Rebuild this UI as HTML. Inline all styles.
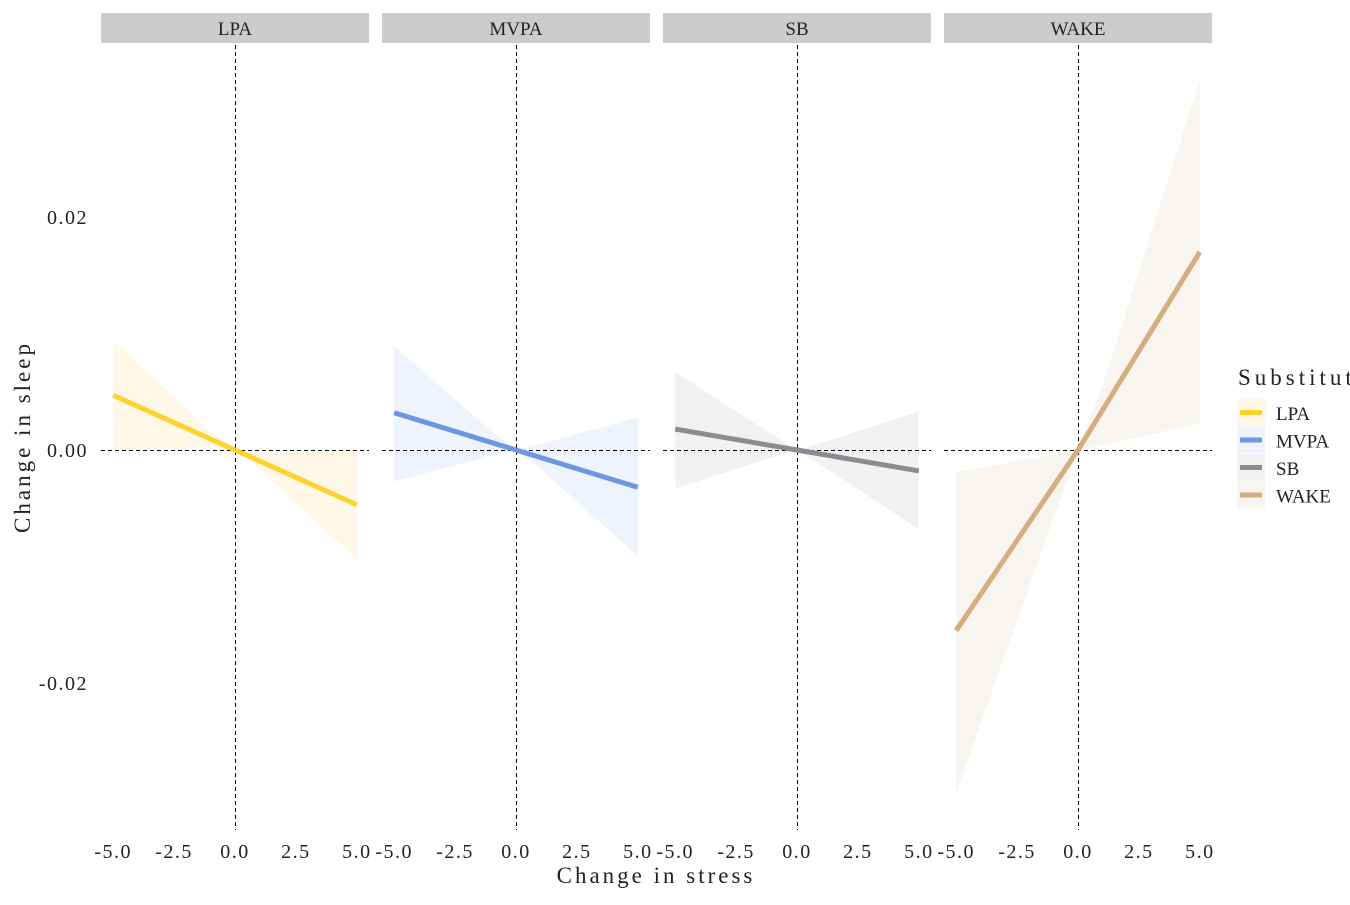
<!DOCTYPE html>
<html><head><meta charset="utf-8"><style>
body{margin:0;background:#fff;}
svg text{font-family:"Liberation Serif",serif;fill:#222;}
</style></head><body>
<svg id="chart" width="1350" height="900" xmlns="http://www.w3.org/2000/svg"></svg>
<script>
const panels=["LPA","MVPA","SB","WAKE"];
const colors=["#fdd22e","#6f97e1","#898c93","#d4ae7d"];
const fills=["#fff8e6","#eef3fc","#f1f1f1","#f8f5f1"];
const lineX=[-5,0,5];
const lineLPA=[0.0047,0,-0.0047];
const lineMVPA=[0.0032,0,-0.0032];
const lineSB=[0.0018,0,-0.0018];
const lineWAKE=[-0.0155,0,0.017];
const ribX=[-5,-1,0,1,5];
const upLPA=[0.0094,0.0016,0,-0.0003,0];
const loLPA=[0,0.0003,0,-0.0016,-0.0094];
const upMVPA=[0.0089,0.0016,0,0.0005,0.0028];
const loMVPA=[-0.0027,-0.0005,0,-0.0016,-0.0091];
const upSB=[0.0067,0.0013,0,0.0006,0.0033];
const loSB=[-0.0033,-0.0006,0,-0.0013,-0.0068];
const upWAKE=[-0.0019,-0.0004,0,0.0055,0.0318];
const loWAKE=[-0.0294,-0.0058,0,0.0004,0.0023];
const xTicks=[-5,-2.5,0,2.5,5];
const xTickLabels=["-5.0","-2.5","0.0","2.5","5.0"];
const yTicks=[0.02,0,-0.02];
const yTickLabels=["0.02","0.00","-0.02"];
const lines=[lineLPA,lineMVPA,lineSB,lineWAKE];
const ups=[upLPA,upMVPA,upSB,upWAKE], los=[loLPA,loMVPA,loSB,loWAKE];
const panelLeft=[101,382,663,944], panelW=268, plotTop=45, plotBottom=830;
const NS="http://www.w3.org/2000/svg", svg=document.getElementById('chart');
function mk(t,a,p){const e=document.createElementNS(NS,t);for(const k in a)e.setAttribute(k,a[k]);(p||svg).appendChild(e);return e;}
function xs(i,v){return panelLeft[i]+(v+5.5)/11*panelW;}
function ys(v){return 450-v*11650;}
yTicks.forEach((t,j)=>{const e=mk('text',{x:88,y:ys(t)+7,'text-anchor':'end','font-size':20,'letter-spacing':'1.5'});


e.textContent=yTickLabels[j];});
const yt=mk('text',{x:0,y:0,transform:'translate(30,437) rotate(-90)','text-anchor':'middle','font-size':23,'letter-spacing':'3'});
yt.textContent='Change in sleep';
panels.forEach((p,i)=>{
  const g=mk('g',{});
  
  
  const s=mk('rect',{x:panelLeft[i],y:13,width:panelW,height:30,fill:'#cccccc'},g);
  
  
  const st=mk('text',{x:panelLeft[i]+panelW/2,y:35,'text-anchor':'middle','font-size':19},g);
  
  
  st.textContent=p;
  let pts=ribX.map((x,k)=>xs(i,x)+','+ys(ups[i][k]));
  pts=pts.concat(ribX.map((x,k)=>xs(i,x)+','+ys(los[i][k])).reverse());
  const r=mk('polygon',{points:pts.join(' '),fill:fills[i]},g);
  
  
  const hy=Math.round(ys(0))+0.5, vx=Math.round(xs(i,0))+0.5;
  const h=mk('line',{x1:panelLeft[i],x2:panelLeft[i]+panelW,y1:hy,y2:hy,stroke:'#000','stroke-width':1,'stroke-dasharray':'4,3'},g);
  
  
  const v=mk('line',{x1:vx,x2:vx,y1:plotTop,y2:plotBottom,stroke:'#000','stroke-width':1,'stroke-dasharray':'4,3'},g);
  
  
  const l=mk('polyline',{points:lineX.map((x,k)=>xs(i,x)+','+ys(lines[i][k])).join(' '),fill:'none',stroke:colors[i],'stroke-width':5},g);
  
  
  xTicks.forEach((t,k)=>{const e=mk('text',{x:xs(i,t),y:858,'text-anchor':'middle','font-size':20,'letter-spacing':'1.5'},g);
  
  
  e.textContent=xTickLabels[k];});
});
const xt=mk('text',{x:656,y:883,'text-anchor':'middle','font-size':23,'letter-spacing':'3'});
xt.textContent='Change in stress';
const lg=mk('g',{});

const ltt=mk('text',{x:1238,y:385,'font-size':23,'letter-spacing':'4'},lg);
ltt.textContent='Substitut';
panels.forEach((p,i)=>{
  const y0=399+i*27.5;
  const k=mk('rect',{x:1237,y:y0,width:28,height:27,fill:fills[i]},lg);
  
  mk('line',{x1:1240,x2:1262,y1:y0+13.5,y2:y0+13.5,stroke:colors[i],'stroke-width':5},lg);
  const t=mk('text',{x:1276,y:y0+21,'font-size':19},lg);
  t.textContent=p;
});
</script>
</body></html>
